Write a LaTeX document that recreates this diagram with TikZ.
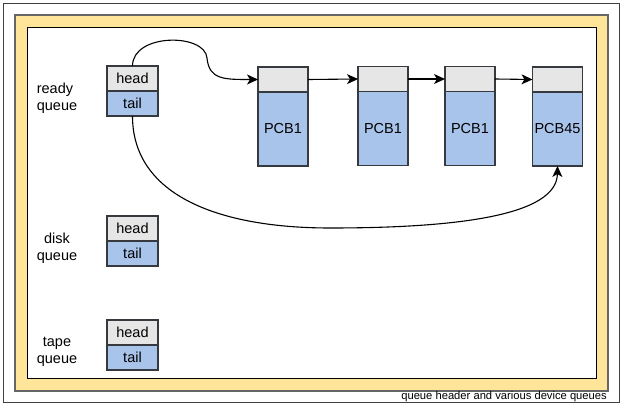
\documentclass[tikz,border=0pt]{standalone}
\usepackage{fontspec}
\setmainfont{Liberation Sans}
\usepackage{tikz}
\usetikzlibrary{positioning}
\usetikzlibrary{arrows.meta}
\definecolor{cellgray}{HTML}{E6E6E6}
\definecolor{cellblue}{HTML}{A9C4EB}
\definecolor{frameyellow}{HTML}{FFE599}
\definecolor{edgegray}{HTML}{36393D}
\tikzstyle{queues}=[x=1pt, y=-1pt, font=\fontsize{14.5}{17}\selectfont, >={Stealth[length=11pt,width=10pt,inset=3pt]}]
\tikzstyle{hd}=[rectangle, draw=edgegray, line width=1.3pt, fill=cellgray, minimum width=51pt, minimum height=25pt, inner sep=0pt, outer sep=0pt]
\tikzstyle{tl}=[hd, fill=cellblue]
\tikzstyle{pcbtop}=[hd, minimum width=50pt]
\tikzstyle{pcbbody}=[tl, minimum width=50pt, minimum height=74pt]
\tikzstyle{qname}=[inner sep=0pt, align=center]
\tikzstyle{link}=[->, line width=1.1pt]

\begin{document}
\begin{tikzpicture}[queues]
	\useasboundingbox (0,0) rectangle (622,406);
	%The frames
	\draw[black!75, line width=0.8pt] (3,3) rectangle (619,402);
	\draw[draw=black!60, line width=1.5pt, fill=frameyellow] (15,15) rectangle (608,391);
	\draw[black, line width=1pt, fill=white] (27,28) rectangle (596,379);
	\node[anchor=base east, inner sep=0pt, font=\fontsize{11.2}{13}\selectfont] (caption) at (607,400) {queue header and various device queues};

	%The ready queue
	\draw (57,98) node[qname, align=left] (rname) {ready\\queue};
	\draw (132.5,78.5) node[hd] (rhead) {head};
	\node[tl, below=0pt of rhead] (rtail) {tail};

	%The disk queue
	\draw (57,248) node[qname] (dname) {disk\\queue};
	\draw (132.5,228.5) node[hd] (dhead) {head};
	\node[tl, below=0pt of dhead] (dtail) {tail};

	%The tape queue
	\draw (57,352) node[qname] (tname) {tape\\queue};
	\draw (132.5,332.5) node[hd] (thead) {head};
	\node[tl, below=0pt of thead] (ttail) {tail};

	%The PCBs
	\draw (283,79.5) node[pcbtop] (p1top) {};
	\node[pcbbody, below=0pt of p1top] (p1) {PCB1};
	\draw (383,79) node[pcbtop] (p2top) {};
	\node[pcbbody, below=0pt of p2top] (p2) {PCB1};
	\draw (470,79) node[pcbtop] (p3top) {};
	\node[pcbbody, below=0pt of p3top] (p3) {PCB1};
	\draw (557.5,79.5) node[pcbtop] (p4top) {};
	\node[pcbbody, below=0pt of p4top] (p4) {PCB45};

	%The links
	\draw[link] (p1top.east) -- (p2top.west);
	\draw[link] (p2top.east) -- (p3top.west);
	\draw[link] (p3top.east) -- (p4top.west);
	\draw[link] (rhead.north) .. controls +(0,-33) and (205,33) .. (207,58) .. controls (209,80) and (225,79.5) .. (p1top.west);
	\draw[link] (rtail.south) .. controls +(0,80) and (220,228) .. (330,228) .. controls (460,228) and (557,215) .. (p4.south);
\end{tikzpicture}
\end{document}
